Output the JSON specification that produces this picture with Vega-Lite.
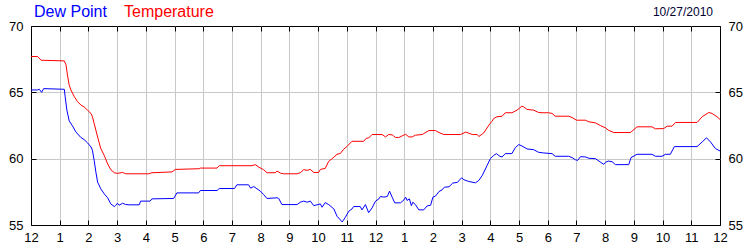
{
  "$schema": "https://vega.github.io/schema/vega-lite/v6.json",
  "width": 689,
  "height": 199,
  "autosize": {"type": "none"},
  "padding": {"left": 31, "top": 26, "right": 30, "bottom": 25},
  "background": "white",
  "title": {"text": "10/27/2010", "anchor": "end", "frame": "group", "font": "Liberation Sans", "fontSize": 12, "fontWeight": "normal", "color": "#000033", "offset": -15, "dx": -7},
  "config": {
    "view": {"stroke": "black", "strokeWidth": 1},
    "axis": {"labelFont": "Liberation Sans", "labelFontSize": 13, "labelColor": "#000000", "tickColor": "#000000", "tickSize": -5, "domain": false, "title": null, "labelFlush": false, "labelOverlap": false, "labelBound": false, "gridColor": "#c8c8c8", "gridWidth": 1}
  },
  "datasets": {
    "wx": [
      {"h":0,"v":67.7,"s":"Temperature"},{"h":0.23,"v":67.7,"s":"Temperature"},{"h":0.35,"v":67.42,"s":"Temperature"},{"h":1.16,"v":67.37,"s":"Temperature"},{"h":1.22,"v":67.07,"s":"Temperature"},{"h":1.27,"v":66.3,"s":"Temperature"},{"h":1.33,"v":65.55,"s":"Temperature"},{"h":1.39,"v":65.18,"s":"Temperature"},{"h":1.51,"v":64.67,"s":"Temperature"},{"h":1.62,"v":64.3,"s":"Temperature"},{"h":1.74,"v":64.04,"s":"Temperature"},{"h":1.85,"v":63.9,"s":"Temperature"},{"h":1.97,"v":63.66,"s":"Temperature"},{"h":2.09,"v":63.4,"s":"Temperature"},{"h":2.14,"v":63.16,"s":"Temperature"},{"h":2.2,"v":62.65,"s":"Temperature"},{"h":2.32,"v":61.64,"s":"Temperature"},{"h":2.43,"v":60.76,"s":"Temperature"},{"h":2.55,"v":60.25,"s":"Temperature"},{"h":2.67,"v":59.6,"s":"Temperature"},{"h":2.78,"v":59.17,"s":"Temperature"},{"h":2.9,"v":58.94,"s":"Temperature"},{"h":3.01,"v":58.89,"s":"Temperature"},{"h":3.19,"v":58.96,"s":"Temperature"},{"h":3.3,"v":58.86,"s":"Temperature"},{"h":4.1,"v":58.86,"s":"Temperature"},{"h":4.21,"v":58.94,"s":"Temperature"},{"h":4.91,"v":59.0,"s":"Temperature"},{"h":5.03,"v":59.19,"s":"Temperature"},{"h":5.84,"v":59.24,"s":"Temperature"},{"h":5.9,"v":59.29,"s":"Temperature"},{"h":6.48,"v":59.29,"s":"Temperature"},{"h":6.56,"v":59.47,"s":"Temperature"},{"h":7.7,"v":59.47,"s":"Temperature"},{"h":7.81,"v":59.55,"s":"Temperature"},{"h":7.93,"v":59.37,"s":"Temperature"},{"h":8.1,"v":59.17,"s":"Temperature"},{"h":8.22,"v":58.94,"s":"Temperature"},{"h":8.51,"v":58.94,"s":"Temperature"},{"h":8.57,"v":59.07,"s":"Temperature"},{"h":8.69,"v":58.91,"s":"Temperature"},{"h":8.8,"v":58.86,"s":"Temperature"},{"h":9.27,"v":58.86,"s":"Temperature"},{"h":9.38,"v":58.94,"s":"Temperature"},{"h":9.5,"v":59.17,"s":"Temperature"},{"h":9.62,"v":59.12,"s":"Temperature"},{"h":9.73,"v":59.19,"s":"Temperature"},{"h":9.85,"v":58.96,"s":"Temperature"},{"h":10.02,"v":58.96,"s":"Temperature"},{"h":10.08,"v":59.19,"s":"Temperature"},{"h":10.25,"v":59.27,"s":"Temperature"},{"h":10.37,"v":59.8,"s":"Temperature"},{"h":10.49,"v":60.0,"s":"Temperature"},{"h":10.66,"v":60.33,"s":"Temperature"},{"h":10.78,"v":60.4,"s":"Temperature"},{"h":10.89,"v":60.71,"s":"Temperature"},{"h":11.01,"v":60.93,"s":"Temperature"},{"h":11.18,"v":61.31,"s":"Temperature"},{"h":11.59,"v":61.31,"s":"Temperature"},{"h":11.68,"v":61.54,"s":"Temperature"},{"h":11.76,"v":61.56,"s":"Temperature"},{"h":11.88,"v":61.82,"s":"Temperature"},{"h":12.23,"v":61.82,"s":"Temperature"},{"h":12.35,"v":61.64,"s":"Temperature"},{"h":12.46,"v":61.82,"s":"Temperature"},{"h":12.58,"v":61.8,"s":"Temperature"},{"h":12.7,"v":61.59,"s":"Temperature"},{"h":12.81,"v":61.59,"s":"Temperature"},{"h":12.93,"v":61.72,"s":"Temperature"},{"h":13.05,"v":61.84,"s":"Temperature"},{"h":13.16,"v":61.64,"s":"Temperature"},{"h":13.28,"v":61.64,"s":"Temperature"},{"h":13.39,"v":61.77,"s":"Temperature"},{"h":13.63,"v":61.82,"s":"Temperature"},{"h":13.86,"v":62.12,"s":"Temperature"},{"h":14.09,"v":62.12,"s":"Temperature"},{"h":14.21,"v":61.97,"s":"Temperature"},{"h":14.38,"v":61.82,"s":"Temperature"},{"h":14.96,"v":61.82,"s":"Temperature"},{"h":15.14,"v":62.0,"s":"Temperature"},{"h":15.25,"v":61.92,"s":"Temperature"},{"h":15.37,"v":61.82,"s":"Temperature"},{"h":15.54,"v":61.82,"s":"Temperature"},{"h":15.6,"v":61.67,"s":"Temperature"},{"h":15.77,"v":61.94,"s":"Temperature"},{"h":15.95,"v":62.53,"s":"Temperature"},{"h":16.05,"v":62.8,"s":"Temperature"},{"h":16.12,"v":63.03,"s":"Temperature"},{"h":16.23,"v":63.16,"s":"Temperature"},{"h":16.41,"v":63.2,"s":"Temperature"},{"h":16.52,"v":63.46,"s":"Temperature"},{"h":16.75,"v":63.46,"s":"Temperature"},{"h":16.93,"v":63.66,"s":"Temperature"},{"h":17.1,"v":63.96,"s":"Temperature"},{"h":17.16,"v":63.91,"s":"Temperature"},{"h":17.28,"v":63.71,"s":"Temperature"},{"h":17.51,"v":63.66,"s":"Temperature"},{"h":17.68,"v":63.48,"s":"Temperature"},{"h":17.8,"v":63.46,"s":"Temperature"},{"h":18.03,"v":63.46,"s":"Temperature"},{"h":18.15,"v":63.41,"s":"Temperature"},{"h":18.26,"v":63.2,"s":"Temperature"},{"h":18.73,"v":63.2,"s":"Temperature"},{"h":18.85,"v":63.1,"s":"Temperature"},{"h":19.0,"v":62.9,"s":"Temperature"},{"h":19.31,"v":62.9,"s":"Temperature"},{"h":19.43,"v":62.78,"s":"Temperature"},{"h":19.66,"v":62.7,"s":"Temperature"},{"h":19.83,"v":62.5,"s":"Temperature"},{"h":20.01,"v":62.32,"s":"Temperature"},{"h":20.11,"v":62.15,"s":"Temperature"},{"h":20.3,"v":61.97,"s":"Temperature"},{"h":20.88,"v":61.97,"s":"Temperature"},{"h":21.11,"v":62.4,"s":"Temperature"},{"h":21.63,"v":62.4,"s":"Temperature"},{"h":21.75,"v":62.25,"s":"Temperature"},{"h":22.04,"v":62.27,"s":"Temperature"},{"h":22.16,"v":62.45,"s":"Temperature"},{"h":22.33,"v":62.45,"s":"Temperature"},{"h":22.45,"v":62.73,"s":"Temperature"},{"h":23.2,"v":62.73,"s":"Temperature"},{"h":23.38,"v":63.16,"s":"Temperature"},{"h":23.61,"v":63.48,"s":"Temperature"},{"h":23.72,"v":63.41,"s":"Temperature"},{"h":23.9,"v":63.16,"s":"Temperature"},{"h":24.0,"v":62.95,"s":"Temperature"},
      {"h":0,"v":65.18,"s":"Dew Point"},{"h":0.23,"v":65.18,"s":"Dew Point"},{"h":0.29,"v":65.23,"s":"Dew Point"},{"h":0.37,"v":65.0,"s":"Dew Point"},{"h":0.44,"v":65.28,"s":"Dew Point"},{"h":1.16,"v":65.23,"s":"Dew Point"},{"h":1.19,"v":64.67,"s":"Dew Point"},{"h":1.25,"v":63.66,"s":"Dew Point"},{"h":1.33,"v":62.85,"s":"Dew Point"},{"h":1.45,"v":62.45,"s":"Dew Point"},{"h":1.56,"v":62.02,"s":"Dew Point"},{"h":1.74,"v":61.59,"s":"Dew Point"},{"h":1.85,"v":61.44,"s":"Dew Point"},{"h":1.97,"v":61.19,"s":"Dew Point"},{"h":2.09,"v":60.88,"s":"Dew Point"},{"h":2.14,"v":60.63,"s":"Dew Point"},{"h":2.2,"v":59.87,"s":"Dew Point"},{"h":2.26,"v":58.99,"s":"Dew Point"},{"h":2.32,"v":58.23,"s":"Dew Point"},{"h":2.43,"v":57.73,"s":"Dew Point"},{"h":2.55,"v":57.35,"s":"Dew Point"},{"h":2.67,"v":57.05,"s":"Dew Point"},{"h":2.78,"v":56.59,"s":"Dew Point"},{"h":2.9,"v":56.39,"s":"Dew Point"},{"h":2.95,"v":56.47,"s":"Dew Point"},{"h":3.01,"v":56.64,"s":"Dew Point"},{"h":3.07,"v":56.49,"s":"Dew Point"},{"h":3.19,"v":56.64,"s":"Dew Point"},{"h":3.3,"v":56.54,"s":"Dew Point"},{"h":3.42,"v":56.52,"s":"Dew Point"},{"h":3.77,"v":56.52,"s":"Dew Point"},{"h":3.82,"v":56.8,"s":"Dew Point"},{"h":4.15,"v":56.8,"s":"Dew Point"},{"h":4.21,"v":56.97,"s":"Dew Point"},{"h":4.97,"v":57.0,"s":"Dew Point"},{"h":5.08,"v":57.42,"s":"Dew Point"},{"h":5.84,"v":57.42,"s":"Dew Point"},{"h":5.9,"v":57.6,"s":"Dew Point"},{"h":6.48,"v":57.6,"s":"Dew Point"},{"h":6.56,"v":57.75,"s":"Dew Point"},{"h":7.09,"v":57.75,"s":"Dew Point"},{"h":7.17,"v":58.03,"s":"Dew Point"},{"h":7.58,"v":58.03,"s":"Dew Point"},{"h":7.65,"v":57.78,"s":"Dew Point"},{"h":7.76,"v":57.9,"s":"Dew Point"},{"h":7.87,"v":57.73,"s":"Dew Point"},{"h":7.99,"v":57.55,"s":"Dew Point"},{"h":8.1,"v":57.3,"s":"Dew Point"},{"h":8.22,"v":57.0,"s":"Dew Point"},{"h":8.57,"v":57.05,"s":"Dew Point"},{"h":8.63,"v":57.0,"s":"Dew Point"},{"h":8.74,"v":56.54,"s":"Dew Point"},{"h":9.27,"v":56.54,"s":"Dew Point"},{"h":9.38,"v":56.72,"s":"Dew Point"},{"h":9.5,"v":56.8,"s":"Dew Point"},{"h":9.62,"v":56.72,"s":"Dew Point"},{"h":9.73,"v":56.8,"s":"Dew Point"},{"h":9.85,"v":56.46,"s":"Dew Point"},{"h":9.96,"v":56.52,"s":"Dew Point"},{"h":10.08,"v":56.59,"s":"Dew Point"},{"h":10.14,"v":56.34,"s":"Dew Point"},{"h":10.25,"v":56.69,"s":"Dew Point"},{"h":10.37,"v":56.54,"s":"Dew Point"},{"h":10.55,"v":56.21,"s":"Dew Point"},{"h":10.66,"v":55.66,"s":"Dew Point"},{"h":10.84,"v":55.23,"s":"Dew Point"},{"h":10.95,"v":55.58,"s":"Dew Point"},{"h":11.07,"v":56.04,"s":"Dew Point"},{"h":11.18,"v":56.21,"s":"Dew Point"},{"h":11.24,"v":56.39,"s":"Dew Point"},{"h":11.47,"v":56.39,"s":"Dew Point"},{"h":11.53,"v":56.14,"s":"Dew Point"},{"h":11.65,"v":56.54,"s":"Dew Point"},{"h":11.76,"v":55.93,"s":"Dew Point"},{"h":11.88,"v":56.29,"s":"Dew Point"},{"h":12.0,"v":56.8,"s":"Dew Point"},{"h":12.12,"v":56.97,"s":"Dew Point"},{"h":12.17,"v":57.15,"s":"Dew Point"},{"h":12.29,"v":57.1,"s":"Dew Point"},{"h":12.41,"v":57.15,"s":"Dew Point"},{"h":12.49,"v":57.55,"s":"Dew Point"},{"h":12.58,"v":57.1,"s":"Dew Point"},{"h":12.67,"v":56.67,"s":"Dew Point"},{"h":12.87,"v":56.67,"s":"Dew Point"},{"h":12.99,"v":56.89,"s":"Dew Point"},{"h":13.05,"v":57.1,"s":"Dew Point"},{"h":13.1,"v":56.85,"s":"Dew Point"},{"h":13.18,"v":56.97,"s":"Dew Point"},{"h":13.25,"v":56.46,"s":"Dew Point"},{"h":13.3,"v":56.72,"s":"Dew Point"},{"h":13.39,"v":56.54,"s":"Dew Point"},{"h":13.51,"v":56.14,"s":"Dew Point"},{"h":13.68,"v":56.14,"s":"Dew Point"},{"h":13.8,"v":56.44,"s":"Dew Point"},{"h":13.92,"v":56.49,"s":"Dew Point"},{"h":14.0,"v":57.1,"s":"Dew Point"},{"h":14.09,"v":57.18,"s":"Dew Point"},{"h":14.21,"v":57.52,"s":"Dew Point"},{"h":14.32,"v":57.65,"s":"Dew Point"},{"h":14.4,"v":57.85,"s":"Dew Point"},{"h":14.56,"v":57.88,"s":"Dew Point"},{"h":14.69,"v":58.16,"s":"Dew Point"},{"h":14.85,"v":58.21,"s":"Dew Point"},{"h":15.0,"v":58.56,"s":"Dew Point"},{"h":15.08,"v":58.41,"s":"Dew Point"},{"h":15.25,"v":58.28,"s":"Dew Point"},{"h":15.48,"v":58.18,"s":"Dew Point"},{"h":15.6,"v":58.36,"s":"Dew Point"},{"h":15.72,"v":58.74,"s":"Dew Point"},{"h":15.89,"v":59.5,"s":"Dew Point"},{"h":16.0,"v":60.0,"s":"Dew Point"},{"h":16.12,"v":60.25,"s":"Dew Point"},{"h":16.21,"v":60.38,"s":"Dew Point"},{"h":16.33,"v":60.18,"s":"Dew Point"},{"h":16.41,"v":60.13,"s":"Dew Point"},{"h":16.52,"v":60.38,"s":"Dew Point"},{"h":16.75,"v":60.38,"s":"Dew Point"},{"h":16.87,"v":60.83,"s":"Dew Point"},{"h":16.99,"v":61.06,"s":"Dew Point"},{"h":17.1,"v":60.96,"s":"Dew Point"},{"h":17.28,"v":60.73,"s":"Dew Point"},{"h":17.51,"v":60.68,"s":"Dew Point"},{"h":17.68,"v":60.48,"s":"Dew Point"},{"h":17.86,"v":60.43,"s":"Dew Point"},{"h":18.15,"v":60.38,"s":"Dew Point"},{"h":18.26,"v":60.18,"s":"Dew Point"},{"h":18.73,"v":60.18,"s":"Dew Point"},{"h":18.85,"v":60.08,"s":"Dew Point"},{"h":18.96,"v":59.92,"s":"Dew Point"},{"h":19.04,"v":59.87,"s":"Dew Point"},{"h":19.14,"v":60.15,"s":"Dew Point"},{"h":19.31,"v":60.13,"s":"Dew Point"},{"h":19.43,"v":60.03,"s":"Dew Point"},{"h":19.66,"v":60.0,"s":"Dew Point"},{"h":19.83,"v":59.75,"s":"Dew Point"},{"h":19.95,"v":59.57,"s":"Dew Point"},{"h":20.01,"v":59.72,"s":"Dew Point"},{"h":20.11,"v":59.82,"s":"Dew Point"},{"h":20.24,"v":59.77,"s":"Dew Point"},{"h":20.36,"v":59.55,"s":"Dew Point"},{"h":20.82,"v":59.55,"s":"Dew Point"},{"h":20.9,"v":60.08,"s":"Dew Point"},{"h":21.11,"v":60.33,"s":"Dew Point"},{"h":21.63,"v":60.33,"s":"Dew Point"},{"h":21.75,"v":60.18,"s":"Dew Point"},{"h":21.98,"v":60.18,"s":"Dew Point"},{"h":22.1,"v":60.33,"s":"Dew Point"},{"h":22.27,"v":60.33,"s":"Dew Point"},{"h":22.41,"v":60.91,"s":"Dew Point"},{"h":23.2,"v":60.91,"s":"Dew Point"},{"h":23.38,"v":61.26,"s":"Dew Point"},{"h":23.53,"v":61.57,"s":"Dew Point"},{"h":23.67,"v":61.26,"s":"Dew Point"},{"h":23.84,"v":60.76,"s":"Dew Point"},{"h":24.0,"v":60.58,"s":"Dew Point"}
    ]
  },
  "data": {"name": "wx"},
  "resolve": {"axis": {"x": "independent", "y": "independent"}},
  "layer": [
    {
      "mark": {"type": "line", "strokeWidth": 1, "opacity": 0},
      "encoding": {
        "x": {"field": "h", "type": "quantitative", "scale": {"domain": [0, 24], "nice": false, "zero": false},
              "axis": {"orient": "top", "values": [0,1,2,3,4,5,6,7,8,9,10,11,12,13,14,15,16,17,18,19,20,21,22,23,24], "labels": false, "grid": false}},
        "y": {"field": "v", "type": "quantitative", "scale": {"domain": [55, 70], "nice": false, "zero": false},
              "axis": {"orient": "right", "values": [55, 60, 65, 70], "grid": false, "labelPadding": 13, "labelBaseline": "middle"}},
        "detail": {"field": "s", "type": "nominal"}
      }
    },
    {
      "mark": {"type": "line", "strokeWidth": 1},
      "encoding": {
        "x": {"field": "h", "type": "quantitative", "scale": {"domain": [0, 24], "nice": false, "zero": false},
              "axis": {"orient": "bottom", "values": [0,1,2,3,4,5,6,7,8,9,10,11,12,13,14,15,16,17,18,19,20,21,22,23,24],
                       "labelExpr": "datum.value % 12 == 0 ? '12' : '' + (datum.value % 12)", "labelPadding": 11,
                       "grid": true, "gridOpacity": {"condition": {"test": "datum.value == 0 || datum.value == 24", "value": 0}, "value": 1}}},
        "y": {"field": "v", "type": "quantitative", "scale": {"domain": [55, 70], "nice": false, "zero": false},
              "axis": {"orient": "left", "values": [55, 60, 65, 70], "labelPadding": 13, "labelBaseline": "middle",
                       "grid": true, "gridOpacity": {"condition": {"test": "datum.value == 55 || datum.value == 70", "value": 0}, "value": 1}}},
        "color": {"field": "s", "type": "nominal",
                  "scale": {"domain": ["Dew Point", "Temperature"], "range": ["#0000ff", "#ff0000"]},
                  "legend": {"orient": "none", "legendX": -13, "legendY": -22, "direction": "horizontal", "title": null,
                             "symbolType": "circle", "symbolSize": 0, "symbolStrokeWidth": 0, "symbolOpacity": 0, "labelOffset": 0,
                             "columnPadding": 1, "padding": 0, "labelFont": "Liberation Sans", "labelFontSize": 16,
                             "labelColor": {"expr": "datum.label == 'Dew Point' ? '#0000ff' : '#ff0000'"}}}
      }
    }
  ]
}
